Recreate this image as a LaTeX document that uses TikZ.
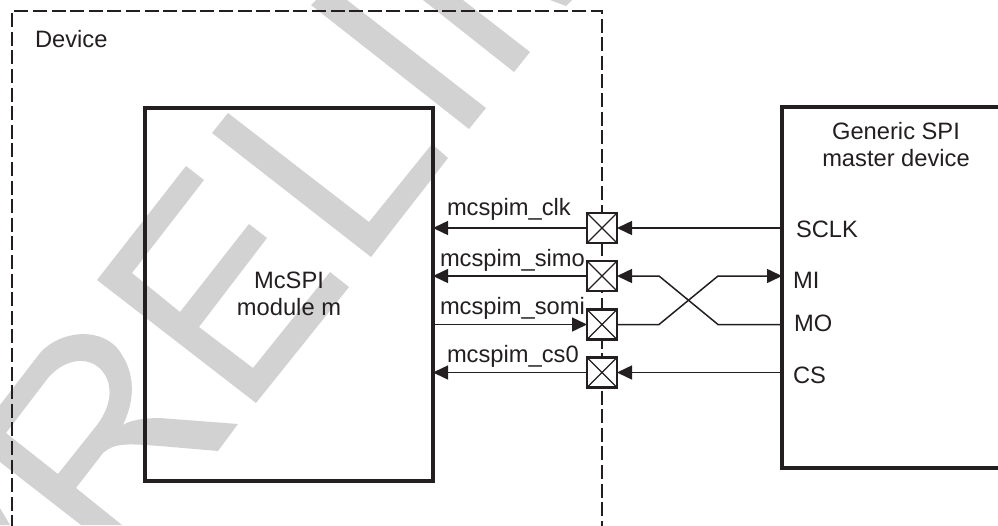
\documentclass[tikz,border=0pt]{standalone}
\usepackage{fontspec}
\setmainfont{Liberation Sans}
\usetikzlibrary{arrows.meta}
\definecolor{ink}{HTML}{231F20}
\definecolor{wm}{HTML}{D2D2D2}
\tikzset{
  wmark/.style={fill=wm,draw=none},
  thickbox/.style={draw=ink,line width=3.6pt,rectangle,inner sep=0pt,outer sep=0pt,line join=miter},
  dashbox/.style={draw=ink,line width=2.5pt,rectangle,inner sep=0pt,outer sep=0pt,dash pattern=on 14pt off 4.6pt},
  pad/.style={draw=ink,line width=2.2pt,fill=white,rectangle,inner sep=0pt,outer sep=0pt,minimum width=30pt,minimum height=30pt},
  wire/.style={draw=ink,line width=1.5pt},
  ahead/.style={-{Triangle[length=15pt,width=14pt]}},
  lbl/.style={font=\fontsize{23.7}{27}\selectfont,text=ink,inner sep=0pt,outer sep=0pt,anchor=base west},
  clbl/.style={font=\fontsize{23.7}{27}\selectfont,text=ink,inner sep=0pt,outer sep=0pt,anchor=base},
}
\begin{document}
\begin{tikzpicture}[x=1pt,y=-1pt]
\useasboundingbox (0,0) rectangle (998,525);
\clip (0,0) rectangle (998,525);
% watermark
\fill[wmark] (316,0) -- (347,0) -- (486,108) -- (469,129) -- (311,5) -- cycle;
\fill[wmark] (423,0) -- (463,0) -- (530,52) -- (514,72) -- cycle;
\fill[wmark] (550,0) -- (572,0) -- (566,6) -- cycle;
\fill[wmark] (228,113) -- (369,222) -- (432,144) -- (448,158) -- (371,257) -- (212,133) -- cycle;
\fill[wmark] (186,166) -- (204,180) -- (132,273) -- (180,312) -- (249,224) -- (267,238) -- (199,327) -- (253,368) -- (330,272) -- (349,287) -- (256,403) -- (97,280) -- cycle;
\fill[wmark,even odd rule] (0,405) -- (40,353) .. controls (60,330) and (105,325) .. (122,355) .. controls (135,375) and (135,400) .. (123,425) .. controls (130,420) and (145,418) .. (160,418) -- (238,424) -- (218,451) -- (160,446) .. controls (130,444) and (115,442) .. (103,453) -- (76,488) -- (122,525) -- (81,525) -- (0,462) -- cycle
 (6,433) -- (48,378) .. controls (65,358) and (90,355) .. (103,372) .. controls (113,385) and (112,405) .. (97,425) -- (58,474) -- cycle;
\fill[wmark] (0,508) -- (10,525) -- (0,525) -- cycle;
% boxes
\node[dashbox,minimum width=590pt,minimum height=529pt] (device) at (307,275.5) {};
\node[thickbox,minimum width=288pt,minimum height=373pt] (module) at (289,294.5) {};
\node[thickbox,minimum width=230pt,minimum height=361pt] (master) at (897,287.5) {};
% pads
\foreach \n/\y in {s1/228,s2/276,s3/324.5,s4/372.5}{
  \node[pad] (\n) at (602,\y) {};
  \draw[ink,line width=1.1pt] (\n.north west) -- (\n.south east) (\n.north east) -- (\n.south west);
}
% connectors
\draw[wire,ahead] (s1.west) -- (module.east |- s1.west);
\draw[wire,ahead] (s2.west) -- (module.east |- s2.west);
\draw[wire,ahead] (module.east |- s3.west) -- (s3.west);
\draw[wire,ahead] (s4.west) -- (module.east |- s4.west);
\draw[wire,ahead] (master.west |- s1.east) -- (s1.east);
\draw[wire,ahead] (master.west |- s4.east) -- (s4.east);
\coordinate (b1) at (659,276);
\coordinate (b2) at (718,324.5);
\coordinate (b3) at (659,324.5);
\coordinate (b4) at (718,276);
\draw[wire,ahead] (master.west |- b2) -- (b2) -- (b1) -- (s2.east);
\draw[wire,ahead] (s3.east) -- (b3) -- (b4) -- (master.west |- b4);
% labels
\node[lbl] (tdev) at (35,47) {Device};
\node[clbl] (tmc) at (289,288) {McSPI};
\node[clbl] (tmod) at (289,315) {module m};
\node[clbl] (tgen) at (896,139) {Generic SPI};
\node[clbl] (tmas) at (896,166) {master device};
\node[lbl] (tsclk) at (796,237) {SCLK};
\node[lbl] (tmi) at (793,288) {MI};
\node[lbl] (tmo) at (794,331) {MO};
\node[lbl] (tcs) at (793,383) {CS};
\node[lbl] (tclk) at (447,215) {mcspim\_clk};
\node[lbl] (tsimo) at (440,266) {mcspim\_simo};
\node[lbl] (tsomi) at (440,314) {mcspim\_somi};
\node[lbl] (tcs0) at (447,362) {mcspim\_cs0};
\end{tikzpicture}
\end{document}
